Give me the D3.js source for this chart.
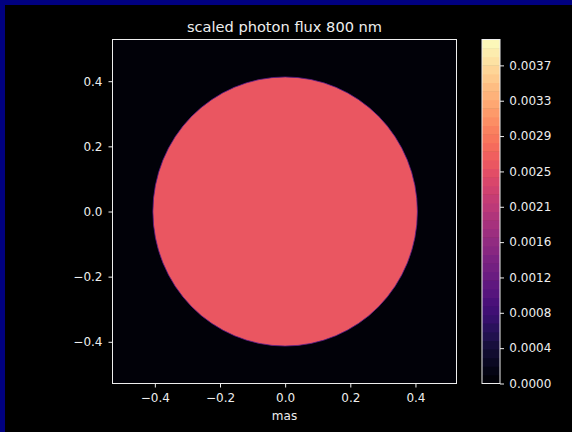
<!DOCTYPE html>
<html><head><meta charset="utf-8">
<script src="https://cdn.jsdelivr.net/npm/d3@7"></script>
<style>
html,body{margin:0;padding:0;background:#000;}
svg{display:block;}
text{font-family:"DejaVu Sans",sans-serif;fill:#eeeeee;}
</style></head><body>
<svg id="c" width="572" height="432"></svg>
<script>
const title = "scaled photon flux 800 nm";
const xLabel = "mas";
const xTicks = [-0.4, -0.2, 0.0, 0.2, 0.4];
const yTicks = [-0.4, -0.2, 0.0, 0.2, 0.4];
const cbTickValues = [0, 0.000411, 0.000822, 0.001233, 0.001644, 0.002055, 0.002466, 0.002877, 0.003288, 0.003699];
const cbTickLabels = ["0.0000","0.0004","0.0008","0.0012","0.0016","0.0021","0.0025","0.0029","0.0033","0.0037"];
const cbMax = 0.0040;
const cbLevels = 40;
const discValue = 0.00255;
const discRadiusX = 0.406;
const discRadiusY = 0.413;
const backgroundValue = 0.0;

const svg = d3.select("#c");
svg.append("rect").attr("width",572).attr("height",432).attr("fill","#000");
svg.append("rect").attr("width",572).attr("height",5).attr("fill","#000080");
svg.append("rect").attr("width",5).attr("height",432).attr("fill","#000080");

const x = d3.scaleLinear().domain([-0.53,0.526]).range([112.5,456.5]);
const y = d3.scaleLinear().domain([-0.528,0.528]).range([383.5,39.5]);
const col = v => d3.interpolateMagma(Math.min(1, (Math.floor(v/cbMax*cbLevels)+0.5)/cbLevels));
const fs = 12;

const g = svg.append("g");
g.append("rect").attr("x",x(-0.53)).attr("y",y(0.528)).attr("width",x(0.526)-x(-0.53)).attr("height",y(-0.528)-y(0.528)).attr("fill",col(backgroundValue));
g.append("ellipse").attr("cx",x(0)).attr("cy",y(0)).attr("rx",x(discRadiusX)-x(0)).attr("ry",y(0)-y(discRadiusY))
 .attr("fill",col(discValue)).attr("stroke","#5a1d8a").attr("stroke-width",0.8);

const xa = svg.append("g").attr("transform",`translate(0,${y(-0.528)})`)
 .call(d3.axisBottom(x).tickValues(xTicks).tickFormat(d=>d3.format(".1f")(d).replace("-","\u2212")).tickSize(4).tickPadding(6.3));
const ya = svg.append("g").attr("transform",`translate(${x(-0.53)},0)`)
 .call(d3.axisLeft(y).tickValues(yTicks).tickFormat(d=>d3.format(".1f")(d).replace("-","\u2212")).tickSize(4).tickPadding(6));
[xa,ya].forEach(a=>{a.select(".domain").remove();a.selectAll("line").attr("stroke","#eee");a.selectAll("text").attr("font-size",fs).attr("fill","#f0f0f0").attr("font-family","DejaVu Sans");});
g.append("rect").attr("x",x(-0.53)).attr("y",y(0.528)).attr("width",x(0.526)-x(-0.53)).attr("height",y(-0.528)-y(0.528)).attr("fill","none").attr("stroke","#eee").attr("stroke-width",1);

// colorbar
const cb = d3.scaleLinear().domain([0,cbMax]).range([383.5,39.5]);
const levels = d3.range(cbLevels);
svg.append("g").selectAll("rect").data(levels).join("rect")
 .attr("x",482).attr("width",18)
 .attr("y",i=>cb((i+1)*cbMax/cbLevels)).attr("height",i=>cb(i*cbMax/cbLevels)-cb((i+1)*cbMax/cbLevels)+0.5)
 .attr("fill",i=>d3.interpolateMagma((i+0.5)/cbLevels));
svg.append("rect").attr("x",482).attr("y",39.5).attr("width",18).attr("height",344).attr("fill","none").attr("stroke","#eee");
const ca = svg.append("g").attr("transform","translate(500,0)")
 .call(d3.axisRight(cb).tickValues(cbTickValues).tickFormat((d,i)=>cbTickLabels[i]).tickSize(4).tickPadding(5.3));
ca.select(".domain").remove();ca.selectAll("line").attr("stroke","#eee");ca.selectAll("text").attr("font-size",fs).attr("fill","#f0f0f0").attr("font-family","DejaVu Sans");

svg.append("text").attr("x",284.5).attr("y",32).attr("text-anchor","middle").attr("font-size",14.6).attr("fill","#f0f0f0").text(title);
svg.append("text").attr("x",284.5).attr("y",419.5).attr("text-anchor","middle").attr("font-size",fs).attr("fill","#f0f0f0").text(xLabel);
</script></body></html>
